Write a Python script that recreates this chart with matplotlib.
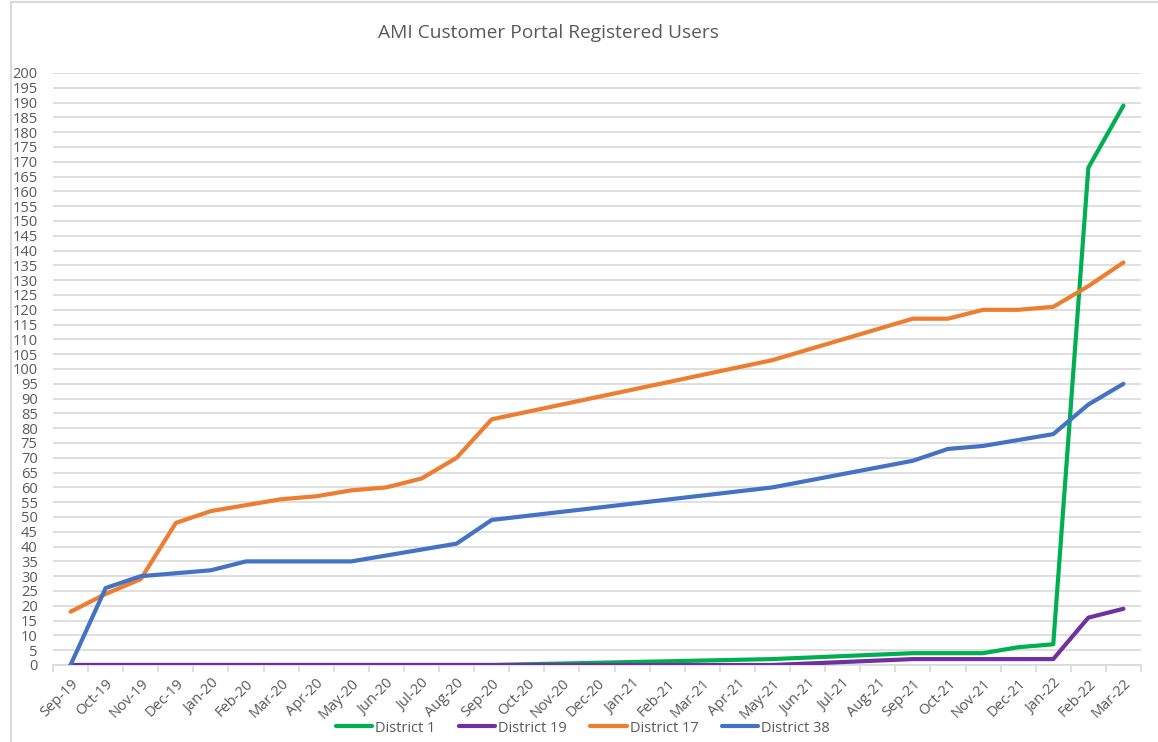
import numpy as np
import matplotlib.pyplot as plt
from matplotlib.lines import Line2D

plt.rcParams['font.family'] = ['Open Sans', 'DejaVu Sans']

months = ["Sep-19", "Oct-19", "Nov-19", "Dec-19", "Jan-20", "Feb-20", "Mar-20",
          "Apr-20", "May-20", "Jun-20", "Jul-20", "Aug-20", "Sep-20", "Oct-20",
          "Nov-20", "Dec-20", "Jan-21", "Feb-21", "Mar-21", "Apr-21", "May-21",
          "Jun-21", "Jul-21", "Aug-21", "Sep-21", "Oct-21", "Nov-21", "Dec-21",
          "Jan-22", "Feb-22", "Mar-22"]

# None = month without a value (Excel joins the neighbouring points)
district_1 = [0, 0, 0, 0, 0, 0, 0, 0, 0, 0, 0, 0, 0,
              None, None, None, None, None, None, None, 2,
              None, None, None, 4, 4, 4, 6, 7, 168, 189]
district_19 = [0, 0, 0, 0, 0, 0, 0, 0, 0, 0, 0, 0, 0,
               None, None, None, None, None, None, None, 0,
               None, None, None, 2, 2, 2, 2, 2, 16, 19]
district_17 = [18, 24, 29, 48, 52, 54, 56, 57, 59, 60, 63, 70, 83,
               None, None, None, None, None, None, None, 103,
               None, None, None, 117, 117, 120, 120, 121, 128, 136]
district_38 = [0, 26, 30, 31, 32, 35, 35, 35, 35, 37, 39, 41, 49,
               None, None, None, None, None, None, None, 60,
               None, None, None, 69, 73, 74, 76, 78, 88, 95]

series = [("District 1", district_1, "#00B050"),
          ("District 19", district_19, "#7030A0"),
          ("District 17", district_17, "#ED7D31"),
          ("District 38", district_38, "#4472C4")]

text_color = "#595959"
grid_color = "#D9D9D9"

fig = plt.figure(figsize=(11.58, 7.42), dpi=100)
ax = fig.add_axes([53 / 1158, 1 - 665 / 742, (1141 - 53) / 1158, (665 - 73) / 742])

for name, values, color in series:
    xs = [i for i, v in enumerate(values) if v is not None]
    ys = [v for v in values if v is not None]
    ax.plot(xs, ys, color=color, lw=3, label=name, solid_capstyle='round',
            solid_joinstyle='round', zorder=3)

ax.set_xlim(-0.5, len(months) - 0.5)
ax.set_ylim(0, 200)
ax.set_yticks(np.arange(0, 201, 5))
ax.yaxis.grid(True, color=grid_color, lw=1.2)
ax.set_axisbelow(True)
ax.tick_params(axis='y', length=0, labelsize=10.5, labelcolor=text_color, pad=11)

# tick marks between categories, labels at category centres
ax.set_xticks(np.arange(-0.5, len(months), 1.0))
ax.set_xticklabels([])
ax.set_xticks(np.arange(len(months)), minor=True)
ax.set_xticklabels(months, minor=True, rotation=45, ha='right',
                   rotation_mode='anchor', fontsize=10.5, color=text_color)
ax.tick_params(axis='x', which='major', length=5, color=grid_color, width=1.2)
ax.tick_params(axis='x', which='minor', length=0, pad=8)

for side in ['top', 'right', 'left']:
    ax.spines[side].set_visible(False)
ax.spines['bottom'].set_color(grid_color)
ax.spines['bottom'].set_linewidth(1.2)

fig.text(548 / 1158, 1 - 33 / 742, "AMI Customer Portal Registered Users",
         ha='center', va='center', fontsize=13.8, color=text_color)

ax.legend(loc='center', bbox_to_anchor=(583 / 1158, 1 - 728 / 742),
          bbox_transform=fig.transFigure, ncol=4, frameon=False,
          fontsize=10.5, labelcolor=text_color, handlelength=2.5,
          handletextpad=0.2, columnspacing=1.6)

# chart border (left and top edges visible in the original)
fig.add_artist(Line2D([11 / 1158, 11 / 1158], [0, 1 - 2 / 742],
                      transform=fig.transFigure, color=grid_color, lw=1.5))
fig.add_artist(Line2D([11 / 1158, 1], [1 - 2 / 742, 1 - 2 / 742],
                      transform=fig.transFigure, color=grid_color, lw=1.5))

fig.savefig("out.png", dpi=100)
